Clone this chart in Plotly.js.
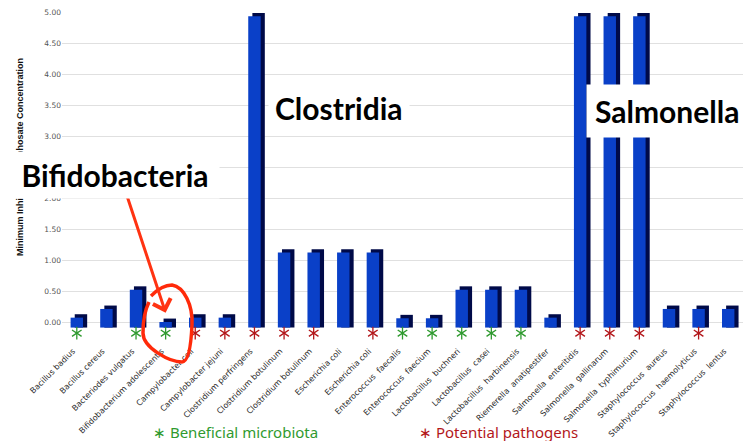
<!DOCTYPE html>
<html><head><meta charset="utf-8">
<script src="https://cdn.plot.ly/plotly-3.0.1.min.js"></script>
<style>html,body{margin:0;padding:0;background:#fff}#chart{width:746px;height:441px}</style>
</head><body><div id="chart"></div>
<script>
const categories = [
  'Bacillus badius','Bacillus cereus','Bacteriodes vulgatus','Bifidobacterium adolescentis',
  'Campylobacter coli','Campylobacter jejuni','Clostridium perfringens','Clostridium botulinum',
  'Clostridium botulinum','Escherichia coli','Escherichia coli','Enterococcus  faecalis',
  'Enterococcus  faecium','Lactobacillus  buchneri','Lactobacillus  casei','Lactobacillus  harbinensis',
  'Riemerella  anatipestifer','Salmonella  enteritidis','Salmonella  gallinarum','Salmonella  typhimurium',
  'Staphylococcus  aureus','Staphylococcus  haemolyticus','Staphylococcus  lentus'
];
const micValues = [0.08,0.22,0.53,0.01,0.08,0.08,4.94,1.13,1.13,1.13,1.13,0.07,0.07,0.53,0.53,0.53,0.08,4.94,4.94,4.94,0.22,0.22,0.22];
// B = beneficial microbiota, P = potential pathogen, '' = unmarked
const groups = ['B','','B','B','P','P','P','P','P','','P','B','B','B','B','B','','P','P','P','','P',''];
const yTicks = [0,0.5,1,1.5,2,2.5,3,3.5,4,4.5,5];

const idx = categories.map((_, i) => i);
const FRONT = '#0a40c8', SIDE = '#000a48';
const GREEN = '#2f9a2f', RED = '#b3171b';
const BASE = -0.08, DEPTH = 0.055, MARK_Y = -0.17;

const traces = [];
// side/top face (3D look)
traces.push({type:'bar', x: idx, y: micValues.map(v => v - BASE + DEPTH), base: BASE,
  width: 0.42, offset: -0.07, marker:{color: SIDE}, hoverinfo:'skip'});
// front face
traces.push({type:'bar', x: idx, y: micValues.map(v => v - BASE), base: BASE,
  width: 0.42, offset: -0.21, marker:{color: FRONT}, hoverinfo:'skip'});

function starTraces(code, color){
  const xs = idx.filter(i => groups[i] === code);
  ['y-up','y-down'].forEach(sym => {
    traces.push({type:'scatter', mode:'markers', x: xs, y: xs.map(() => MARK_Y),
      cliponaxis:false, hoverinfo:'skip',
      marker:{symbol: sym, size: 8, color: color, line:{color: color, width: 1.3}}});
  });
}
starTraces('B', GREEN);
starTraces('P', RED);

const L = 62, R = 3, T = 12, B = 106, W = 746, H = 441;
const PX = px => (px - L) / (W - L - R);
const PY = py => (H - B - py) / (H - T - B);
const bigFont = {family:'Lato', size:30, color:'#000', weight:'bold'};

// hand-drawn loop around the Bifidobacterium bar (decoration), given in page pixels
const loopPx = [['M',151,296],['C',160,287,166,285,172,285],['C',184,287,193,305,192,325],
  ['C',191,347,188,362,182,362],['C',170,362,143,348,143,333],['C',143,318,146,308,149,302]];
const loopPath = loopPx.map(seg => {
  const pts = [];
  for (let k = 1; k < seg.length; k += 2) pts.push(PX(seg[k]).toFixed(5) + ',' + PY(seg[k+1]).toFixed(5));
  return seg[0] + pts.join(' ');
}).join(' ');

const annotations = [
  {xref:'paper', yref:'paper', x: PX(20), y: PY(157), text:'Minimum Inhibitory Glyphosate Concentration',
   textangle:-90, showarrow:false, xanchor:'center', yanchor:'middle',
   font:{family:'Liberation Sans', size:9, color:'#111', weight:'bold'}},
  {xref:'x', yref:'y', x: 3, y: 0.16, ax: -39, ay: -118, text:'', showarrow:true,
   arrowhead:4, arrowsize:1.2, arrowwidth:3, arrowcolor:'#ff3312'},
  {xref:'paper', yref:'paper', x: PX(10), y: PY(175), text:'<b>Bifidobacteria</b>', showarrow:false,
   font: bigFont, bgcolor:'#fff', borderpad:4, width:200, height:38, align:'center', valign:'middle',
   xanchor:'left', yanchor:'middle'},
  {xref:'paper', yref:'paper', x: PX(339), y: PY(108), text:'<b>Clostridia</b>', showarrow:false,
   font: bigFont, bgcolor:'#fff', borderpad:6, xanchor:'center', yanchor:'middle'},
  {xref:'paper', yref:'paper', x: PX(667), y: PY(111), text:'<b>Salmonella</b>', showarrow:false,
   font: bigFont, bgcolor:'#fff', borderpad:8, xanchor:'center', yanchor:'middle'},
  {xref:'paper', yref:'paper', x: PX(151), y: PY(432), text:'∗ Beneficial microbiota', showarrow:false,
   font:{family:'Noto Sans', size:15, color: GREEN}, xanchor:'left', yanchor:'middle'},
  {xref:'paper', yref:'paper', x: PX(417), y: PY(432), text:'∗ Potential pathogens', showarrow:false,
   font:{family:'Noto Sans', size:15, color: RED}, xanchor:'left', yanchor:'middle'}
];

const shapes = [
  {type:'path', xref:'paper', yref:'paper', path: loopPath, line:{color:'#ff2a0a', width:3.5}}
];

const layout = {
  width: W, height: H, margin:{l:L, r:R, t:T, b:B, pad:0},
  paper_bgcolor:'#fff', plot_bgcolor:'#fff', showlegend:false, barmode:'overlay',
  font:{family:'DejaVu Sans'},
  xaxis:{range:[-0.5,22.5], tickmode:'array', tickvals: idx, ticktext: categories, tickangle:-45,
    tickfont:{family:'DejaVu Sans', size:8, color:'#2a2a2a'}, showgrid:false, zeroline:false,
    showline:false, ticks:'', ticklabelstandoff:9, ticklabelshift:-4, fixedrange:true},
  yaxis:{range:[-0.2,5.01], tickmode:'array', tickvals: yTicks, tickformat:'.2f',
    gridcolor:'#e0e0e0', gridwidth:1.5, zeroline:false, showline:false, ticks:'',
    tickfont:{family:'DejaVu Sans', size:7.5, color:'#555'}, fixedrange:true},
  annotations, shapes
};

Plotly.newPlot('chart', traces, layout, {staticPlot:true, displayModeBar:false});
</script></body></html>
